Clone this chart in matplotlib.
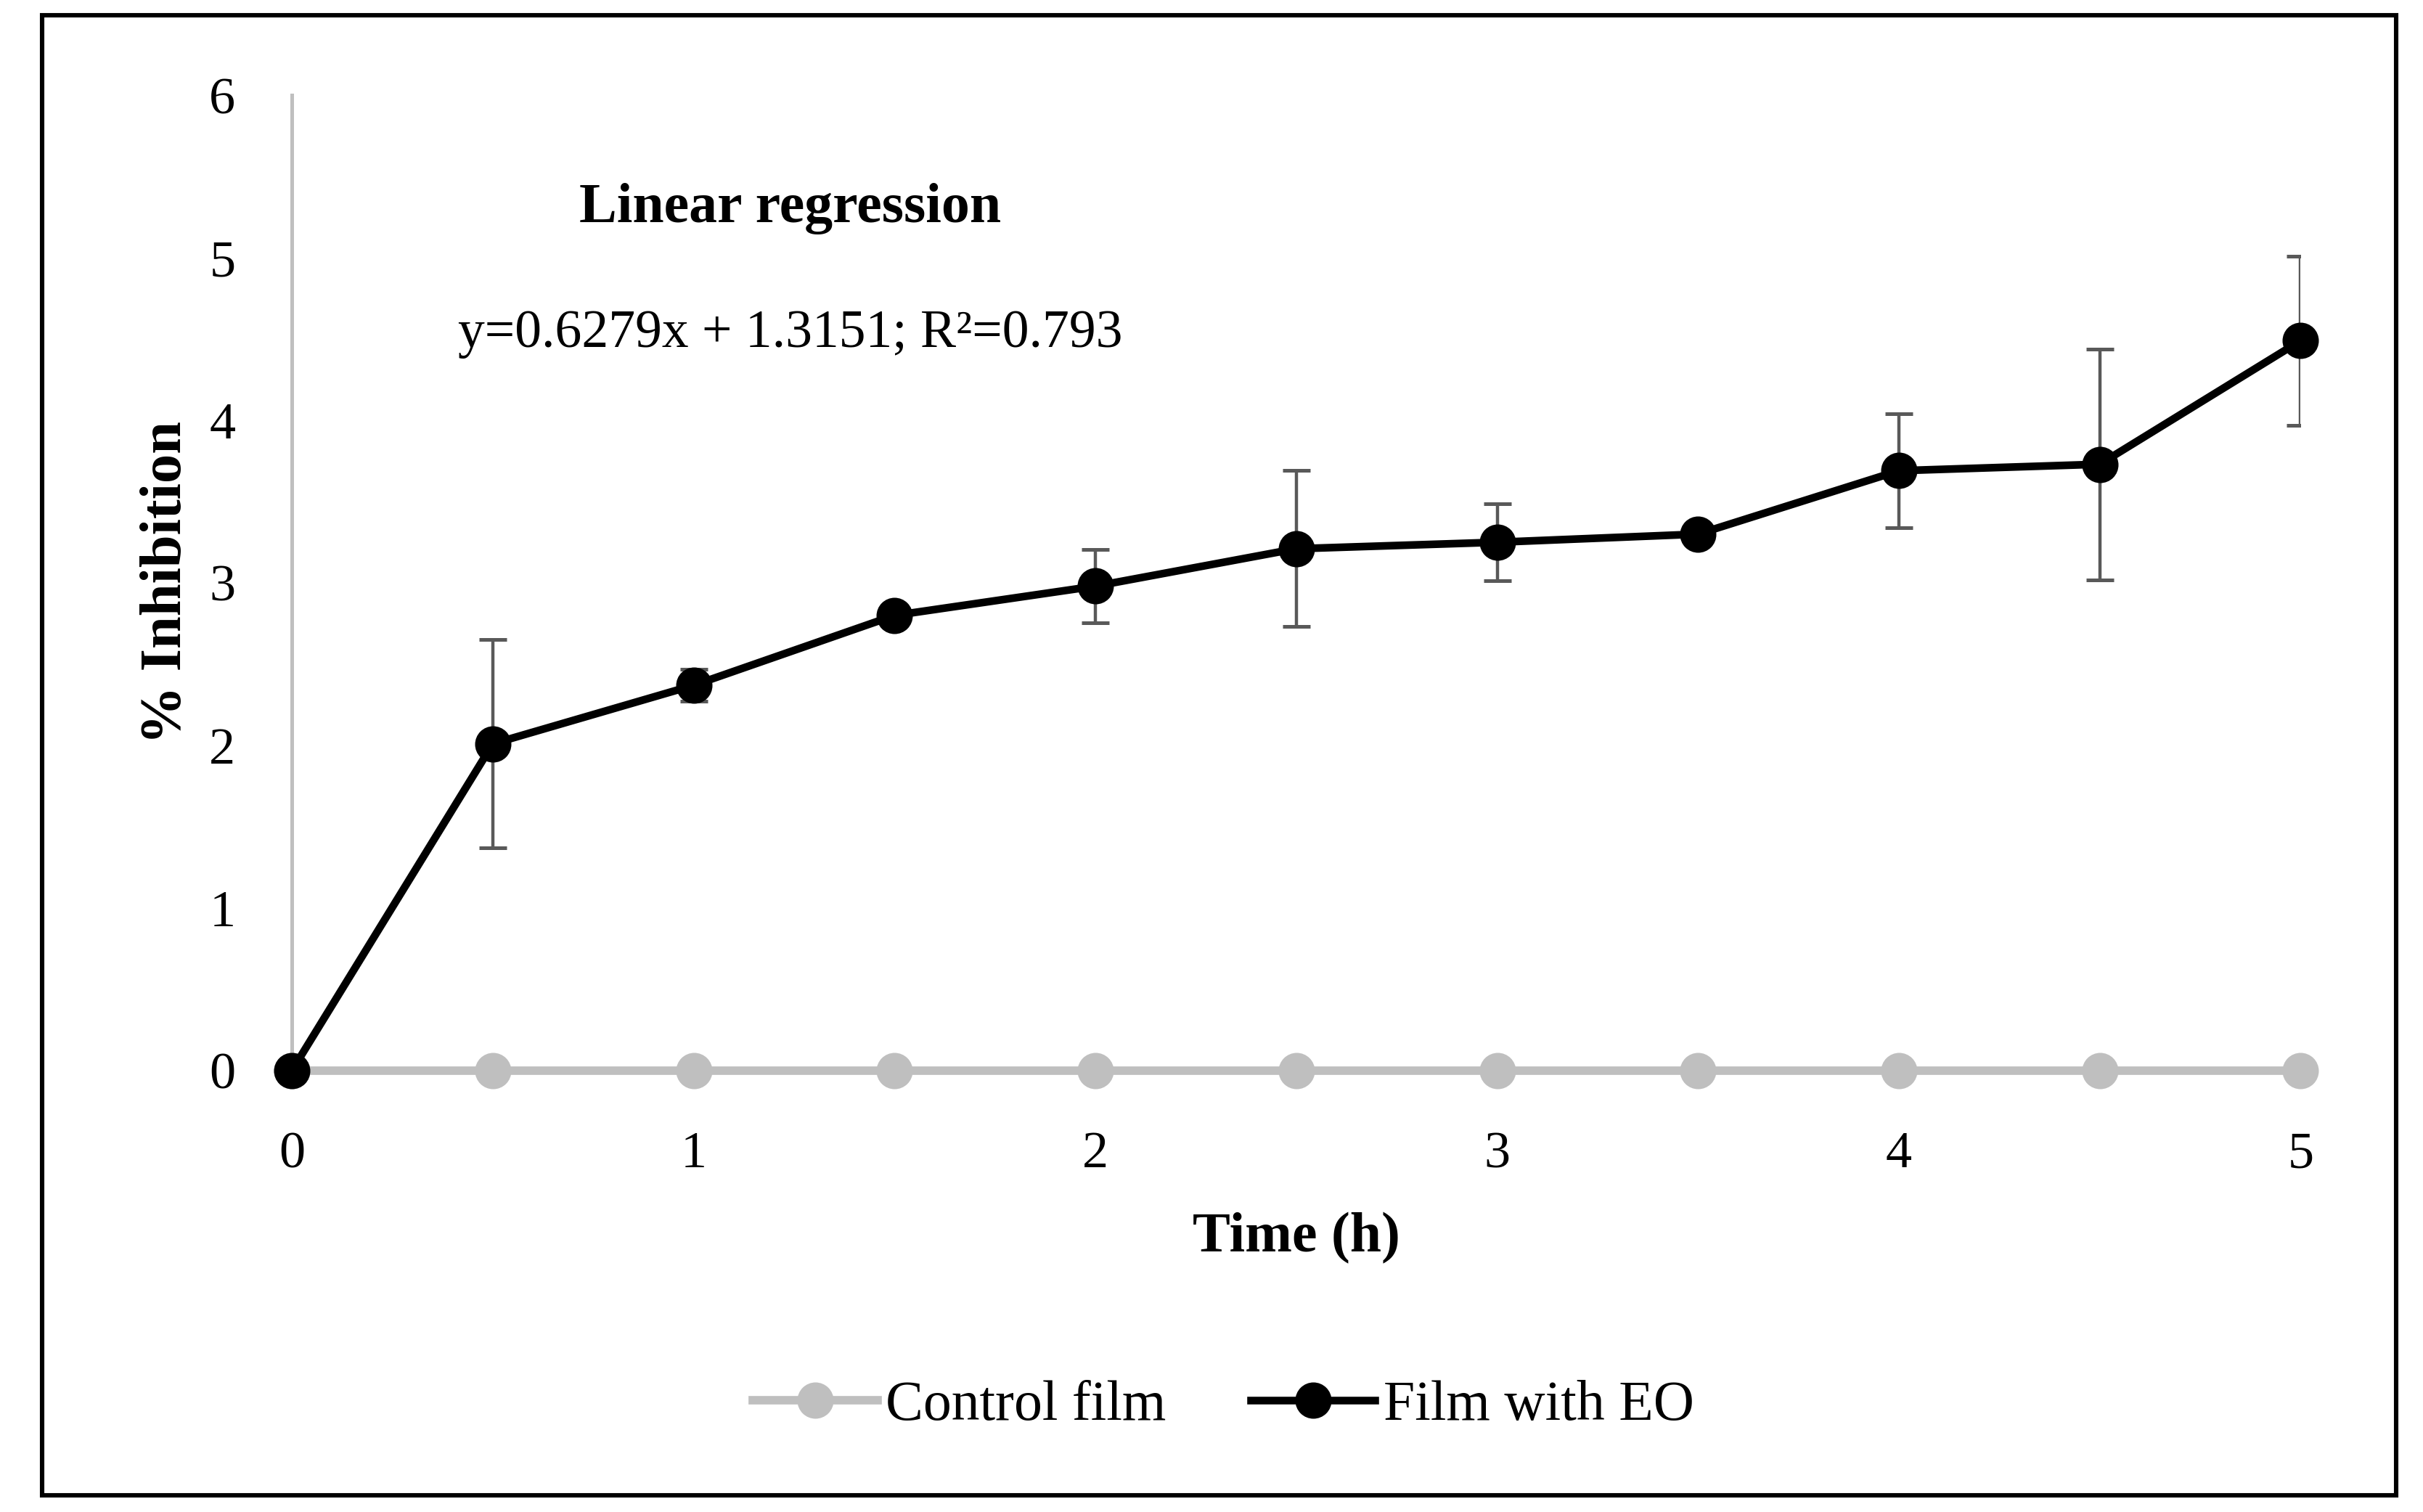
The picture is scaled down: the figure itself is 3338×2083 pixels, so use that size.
import numpy as np
import matplotlib.pyplot as plt
from matplotlib.patches import Rectangle

plt.rcParams['font.family'] = ['Liberation Serif', 'DejaVu Serif']

# dados
tempo = [0, 0.5, 1, 1.5, 2, 2.5, 3, 3.5, 4, 4.5, 5]
controle = [0, 0, 0, 0, 0, 0, 0, 0, 0, 0, 0]
filme_oe = [0, 2.01, 2.37, 2.80, 2.98, 3.21, 3.25, 3.30, 3.69, 3.73, 4.49]
erro_oe = [0, 0.64, 0.10, 0, 0.225, 0.48, 0.235, 0, 0.35, 0.71, 0.52]

cinza = '#BFBFBF'

fig = plt.figure(figsize=(3338 / 200, 2083 / 200), dpi=200)
ax = fig.add_axes([0.1205, 0.292, 0.829, 0.645])

ax.plot(tempo, controle, '-o', color=cinza, lw=4.2, ms=17, label='Control film',
        zorder=2, clip_on=False)
ax.errorbar(tempo, filme_oe, yerr=erro_oe, fmt='none', ecolor='#595959',
            elinewidth=1.6, capsize=7, capthick=1.8, zorder=3)
ax.plot(tempo, filme_oe, '-o', color='black', lw=3.8, ms=17, label='Film with EO',
        zorder=4, clip_on=False)

ax.set_xlim(0, 5)
ax.set_ylim(0, 6)
ax.set_xticks(range(0, 6))
ax.set_yticks(range(0, 7))
ax.tick_params(length=0, labelsize=26)
ax.tick_params(axis='y', pad=28)
ax.tick_params(axis='x', pad=30)
for s in ['top', 'right']:
    ax.spines[s].set_visible(False)
ax.spines['left'].set_color(cinza)
ax.spines['left'].set_linewidth(1.8)
ax.spines['bottom'].set_color(cinza)
ax.spines['bottom'].set_linewidth(1.8)

ax.set_xlabel('Time (h)', fontsize=28, fontweight='bold', labelpad=17)
ax.set_ylabel('% Inhibition', fontsize=29, fontweight='bold', labelpad=8)

ax.text(1.24, 5.30, 'Linear regression', fontsize=28, fontweight='bold',
        ha='center', va='center')
ax.text(1.24, 4.53, 'y=0.6279x + 1.3151; R²=0.793', fontsize=26.5,
        ha='center', va='center')

fig.legend(loc='center', bbox_to_anchor=(0.505, 0.07), ncol=2, frameon=False,
           fontsize=28, handlelength=2.2, handletextpad=0.15, columnspacing=1.5)

fig.patches.append(Rectangle((0.0175, 0.011), 0.9715, 0.979, transform=fig.transFigure,
                             fill=False, edgecolor='black', lw=2.2))

fig.savefig('out.png', dpi=200)
